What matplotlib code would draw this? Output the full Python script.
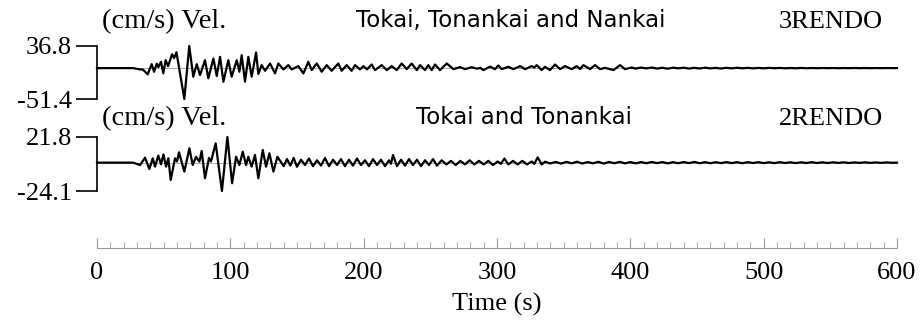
import numpy as np
import matplotlib
matplotlib.use("Agg")
import matplotlib.pyplot as plt

# ---- data (time s, velocity cm/s) ----
# 3RENDO: Tokai, Tonankai and Nankai
t1 = [0, 27, 30.8, 34.5, 38.0, 41.0, 42.8, 44.8, 46.0, 48.0, 49.7, 51.5, 53.3, 56.3, 57.8,
      59.6, 65.5, 69.2, 72.2, 74.8, 77.3, 81, 83.5, 87.3, 89.8, 92.3, 94.8, 98.5, 101,
      104.8, 106.8, 108.5, 111, 113.5, 116, 119.3, 121, 123.5, 126, 129.8, 133.5, 136,
      139.8, 143.5, 146, 151, 154.8, 158.5, 161, 164.8, 168.5, 172.3, 176, 181, 183.5,
      187.3, 191, 193.5, 197.3, 199.8, 202.5, 206, 208.5, 213.5, 217.3, 221, 224.8, 228.5,
      232.3, 236, 239.8, 242.3, 246, 248.5, 251, 253.5, 257.3, 262.3, 267.3, 272.3, 276,
      281, 285, 287.5, 289.8, 294.8, 298.5, 301, 303.5, 308.5, 312.3, 317.3, 321, 326,
      328, 329.8, 333.5, 336, 339.8, 343.5, 347.3, 351, 356, 359.8, 362.3, 364.8, 369.8,
      373.5, 377.3, 381, 387.3, 392.3, 396, 401]
v1 = [0, 0, -1.6, -2.5, -10.4, 6.6, -6.1, 7.4, 1.6, 10.4, -8.7, 13.2, 3.3, 23, 16.5,
      26.4, -51.4, 36.8, -14.4, 6.6, -11.6, 13.2, -17, 16, -13.2, 18.7, -22.6, 13.2, -14.3,
      13, -6, 21.5, -22.6, 18.7, -14.3, 26, -9.9, 5, -4.4, 7.7, -8.8, 7.7,
      -2.2, 5, -2.2, 3.3, -8.8, 10.5, -3.3, 7.7, -6, 5, -4.4, 7.7, -4.4,
      5, -4.4, 5, -2.2, 3.3, -2, 6, -3.3, 5, -3.3, 3.3, -3.3, 7.7,
      -1.7, 7.7, -3.3, 5, -3.3, 5, -3.3, 6, -3.3, 7.7, -1.7, 1.7, -1.7,
      1.5, -1, 0.5, -3.3, 2.5, -1.7, 4.4, -1.7, 2.2, -1.7, 3.3, -1.7, 3.3,
      1, 5, -3.3, 2.2, -3.3, 6, -1.7, 3.3, -1.7, 3.3, -1.7, 5, -1.7,
      5, -1.7, 0.5, -3.3, 5, -1.7, 1]
# late coda, one value every 4 s from 404 s
v1_coda = [-0.8, 0.9, -0.5, 1.0, -0.8, 0.6, -1.0, 0.8, -0.4, 0.7, -0.8, 0.5, -0.6, 0.8,
           -0.5, 0.4, -0.7, 0.5, -0.4, 0.6,
           -0.3, 0.4, -0.4, 0.3, -0.3, 0.4, -0.2, 0.3, -0.3, 0.2, -0.3, 0.3, -0.2, 0.2, -0.2,
           0.2, -0.1, 0.2, -0.2, 0.1, -0.1, 0.2, -0.1, 0.1, -0.1, 0.1, 0, 0.1, 0, 0]

# 2RENDO: Tokai and Tonankai
t2 = [0, 27, 32.3, 36, 39.3, 41.8, 43.5, 46, 48, 49.8, 51.8, 53.5, 55.3, 58.5, 60, 61.5,
      65.5, 69.3, 71.8, 74.3, 76.8, 78.5, 81, 84, 85.5, 89, 93.7, 97.8, 101.3, 104.3,
      106.8, 109.3, 111.8, 113.5, 116, 118.5, 121, 124.3, 126.8, 129.3, 132.3, 135.3,
      140, 142.5, 145, 147.5, 150, 153, 156, 159, 162, 165, 168, 171, 174, 177, 180, 183,
      186, 189, 192, 195, 198, 201, 204, 207, 210, 213, 216, 219, 220.5, 222, 225, 228,
      231, 234, 237, 240, 243, 246, 249, 252, 255, 258.5, 262, 265.5, 269, 272.5, 276,
      279.5, 283, 286.5, 290, 293.5, 297, 300.5, 303, 305.5, 308.5, 312, 315.5, 319,
      322.5, 326, 328, 330.5, 333.5, 336]
v2 = [0, 0, -2, 4.2, -5.4, 3.7, -3.4, 6, -1.4, 7, -3.4, 3.7, -14.7, 3.7, 1, 8.8,
      -7.6, 12.2, -2, 5, 0.8, 10, -13.3, 4, 1, 16.4, -24.1, 21.8, -17.5, 5,
      -2, 9.3, -2, 5, -3.4, 6.5, -13.3, 10.8, -3.4, 8, -7.6, 5,
      -3, 3, -2.5, 4, -3.5, 2.5, -2, 3.5, -3, 2, -2.5, 4, -3, 2.5, -2, 3,
      -3, 2.5, -2.5, 3.5, -2, 2, -3, 3, -2, 2.5, -3, 2, -1, 6.5, -3, 2.5,
      -2.5, 3, -2, 2.5, -3, 2, -2, 3, -2.5, 2, -1.5, 1.5, -2, 1.5, -1.5,
      2, -1.5, 1.5, -1.5, 1.5, -2, 1, -1, 3.5, -1.5, 1.5, -1.5, 1.5,
      -1.5, 1, -1, 4.5, -1.5, 0.8]
# late coda, one value every 4 s from 340 s
v2_coda = [-0.7, 0.6, -0.8, 0.7, -0.6, 0.8, -0.7, 0.5, -0.6, 0.7, -0.8, 0.6, -0.5, 0.7,
           -0.6, 0.5,
           -0.6, 0.5, -0.5, 0.6, -0.4, 0.5, -0.6, 0.4, -0.5, 0.5, -0.4, 0.6, -0.5, 0.4,
           -0.5, 0.4, -0.4, 0.5, -0.4, 0.4, -0.5, 0.4, -0.3, 0.4, -0.4,
           0.3, -0.4, 0.4, -0.3, 0.3, -0.4, 0.3, -0.3, 0.4, -0.3, 0.3, -0.3, 0.3, -0.2,
           0.3, -0.3, 0.2, -0.2, 0.3, -0.2, 0.2, -0.2, 0.2, -0.1, 0]

titles = ["Tokai, Tonankai and Nankai", "Tokai and Tonankai"]
names = ["3RENDO", "2RENDO"]
unit_label = "(cm/s) Vel."
x_ticks = [0, 100, 200, 300, 400, 500, 600]

t1_all = np.concatenate([t1, np.arange(404, 601, 4)])
v1_all = np.concatenate([v1, v1_coda])
t2_all = np.concatenate([t2, np.arange(340, 601, 4)])
v2_all = np.concatenate([v2, v2_coda])

# ---- figure, laid out in pixels ----
W, H = 922, 328
fig = plt.figure(figsize=(W / 100, H / 100), dpi=100)
serif = "Liberation Serif"
sans = "DejaVu Sans"
X0, X1 = 97, 897


def px_axes(x0, y_top, x1, y_bot):
    return fig.add_axes([x0 / W, 1 - y_bot / H, (x1 - x0) / W, (y_bot - y_top) / H])


def trace(ax, t, v):
    lo, hi = min(v), max(v)
    ax.plot([0, 600], [0, 0], color="#8a8a8a", lw=0.5, zorder=1)
    ax.plot(t, v, color="black", lw=1.6, clip_on=False, zorder=2)
    ax.set_xlim(0, 600)
    ax.set_ylim(lo, hi)
    ax.patch.set_visible(False)
    for s in ["top", "right", "bottom"]:
        ax.spines[s].set_visible(False)
    ax.spines["left"].set_linewidth(1.2)
    ax.set_xticks([])
    ax.set_yticks([lo, hi])
    ax.set_yticklabels([f"{lo:.1f}", f"{hi:.1f}"], fontsize=19, family=serif)
    ax.tick_params(axis="y", length=15, width=1.2, pad=3)


ax1 = px_axes(X0, 46, X1, 99)
trace(ax1, t1_all, v1_all)
ax2 = px_axes(X0, 137, X1, 191)
trace(ax2, t2_all, v2_all)

# titles and labels
for i, ytxt in enumerate([20, 117]):
    fig.text(102 / W, 1 - (ytxt + 2) / H, unit_label, fontsize=20.5, family=serif,
             ha="left", va="center")
    fig.text([511, 524][i] / W, 1 - ytxt / H, titles[i], fontsize=16.5, family=sans,
             ha="center", va="center")
    fig.text(883 / W, 1 - (ytxt + 2) / H, names[i], fontsize=19, family=serif,
             ha="right", va="center")

# time ruler
ax3 = px_axes(X0, 237, X1, 248)
ax3.set_xlim(0, 600)
ax3.set_yticks([])
ax3.patch.set_visible(False)
for s in ["top", "right", "left"]:
    ax3.spines[s].set_visible(False)
ax3.spines["bottom"].set_color("#999999")
ax3.set_xticks(x_ticks)
ax3.set_xticks(np.arange(0, 601, 10), minor=True)
ax3.set_xticklabels([str(x) for x in x_ticks], fontsize=19, family=serif)
ax3.tick_params(axis="x", which="major", direction="in", length=7.5, color="#999999",
                pad=10)
ax3.tick_params(axis="x", which="minor", direction="in", length=4.5, color="#999999")
fig.text((X0 + X1) / 2 / W, 1 - 304 / H, "Time (s)", fontsize=19, family=serif,
         ha="center", va="center")

fig.savefig("out.png", dpi=100)
